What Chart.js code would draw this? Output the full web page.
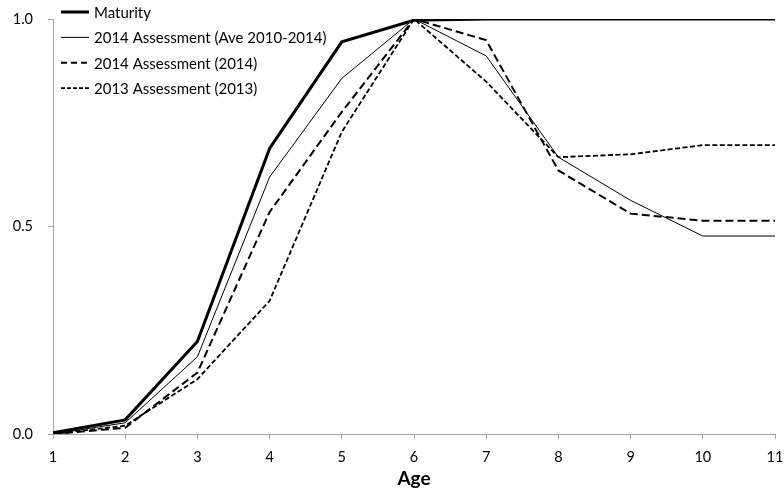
<!DOCTYPE html>
<html>
<head>
<meta charset="utf-8">
<script src="https://cdn.jsdelivr.net/npm/chart.js@4"></script>
<style>
  html, body { margin: 0; padding: 0; background: #fff; }
  #wrap { width: 784px; height: 503px; }
</style>
</head>
<body>
<div id="wrap"><canvas id="chart"></canvas></div>
<script>
const ages = [1, 2, 3, 4, 5, 6, 7, 8, 9, 10, 11]
const maturity = [0.003, 0.034, 0.223, 0.688, 0.945, 0.997, 1.0, 1.0, 1.0, 1.0, 1.0]
const aveSel = [0.0, 0.027, 0.186, 0.619, 0.857, 1.0, 0.911, 0.667, 0.563, 0.477, 0.477]
const sel2014 = [0.0, 0.015, 0.148, 0.535, 0.776, 1.0, 0.949, 0.635, 0.531, 0.514, 0.514]
const sel2013 = [0.0, 0.02, 0.132, 0.321, 0.728, 1.0, 0.849, 0.667, 0.674, 0.696, 0.696]
const yTicks = [0.0, 0.5, 1.0]

const FONT = 'Lato, "Open Sans", sans-serif'

const toPoints = values => values.map((v, i) => ({ x: ages[i], y: v }))

// legend sits over the plot, above its top edge, so draw it by hand
const lineLegend = {
  id: 'lineLegend',
  afterDraw(chart) {
    const ctx = chart.ctx
    ctx.save()
    ctx.font = `15px ${FONT}`
    ctx.textBaseline = 'middle'
    chart.data.datasets.forEach((ds, i) => {
      const y = 12 + i * 25.4
      ctx.strokeStyle = ds.borderColor
      ctx.lineWidth = ds.borderWidth
      ctx.setLineDash(ds.legendDash || ds.borderDash || [])
      ctx.beginPath()
      ctx.moveTo(61, y)
      ctx.lineTo(89, y)
      ctx.stroke()
      ctx.setLineDash([])
      ctx.fillStyle = '#000'
      ctx.fillText(ds.label, 94, y + 1)
    })
    ctx.restore()
  }
}

new Chart(document.getElementById('chart'), {
  type: 'line',
  data: {
    datasets: [
      { label: 'Maturity', data: toPoints(maturity), borderColor: '#000', borderWidth: 3 },
      { label: '2014 Assessment (Ave 2010-2014)', data: toPoints(aveSel), borderColor: '#000', borderWidth: 1 },
      { label: '2014 Assessment (2014)', data: toPoints(sel2014), borderColor: '#000', borderWidth: 2, borderDash: [8, 4], legendDash: [6, 4] },
      { label: '2013 Assessment (2013)', data: toPoints(sel2013), borderColor: '#000', borderWidth: 1.8, borderDash: [5, 2.5], legendDash: [4, 2] }
    ]
  },
  options: {
    responsive: true,
    maintainAspectRatio: false,
    animation: false,
    layout: { padding: { top: 19, right: 9, bottom: 0, left: 0 } },
    elements: {
      point: { radius: 0 },
      line: { tension: 0, fill: false, borderCapStyle: 'butt', borderJoinStyle: 'miter' }
    },
    plugins: {
      legend: { display: false },
      tooltip: { enabled: false }
    },
    scales: {
      x: {
        type: 'linear',
        min: 1,
        max: 11,
        afterFit: scale => {
          scale.height = 69
          scale.paddingLeft = 0
          scale.paddingRight = 0
        },
        border: { color: '#a6a6a6', width: 1 },
        grid: { drawOnChartArea: false, drawTicks: true, tickLength: 5, color: '#a6a6a6' },
        ticks: {
          stepSize: 1,
          padding: 10,
          color: '#000',
          font: { family: FONT, size: 14.5 }
        },
        title: {
          display: true,
          text: 'Age',
          color: '#000',
          padding: { top: 2, bottom: 13 },
          font: { family: FONT, size: 19, weight: 'bold' }
        }
      },
      y: {
        min: 0,
        max: 1,
        afterFit: scale => {
          scale.width = 53
          scale.paddingTop = 0
          scale.paddingBottom = 0
        },
        afterBuildTicks: scale => { scale.ticks = yTicks.map(v => ({ value: v })) },
        border: { color: '#a6a6a6', width: 1 },
        grid: { drawOnChartArea: false, drawTicks: true, tickLength: 5, color: '#a6a6a6' },
        ticks: {
          padding: 15,
          color: '#000',
          font: { family: FONT, size: 14.5 },
          callback: value => value.toFixed(1)
        }
      }
    }
  },
  plugins: [lineLegend]
})
</script>
</body>
</html>
